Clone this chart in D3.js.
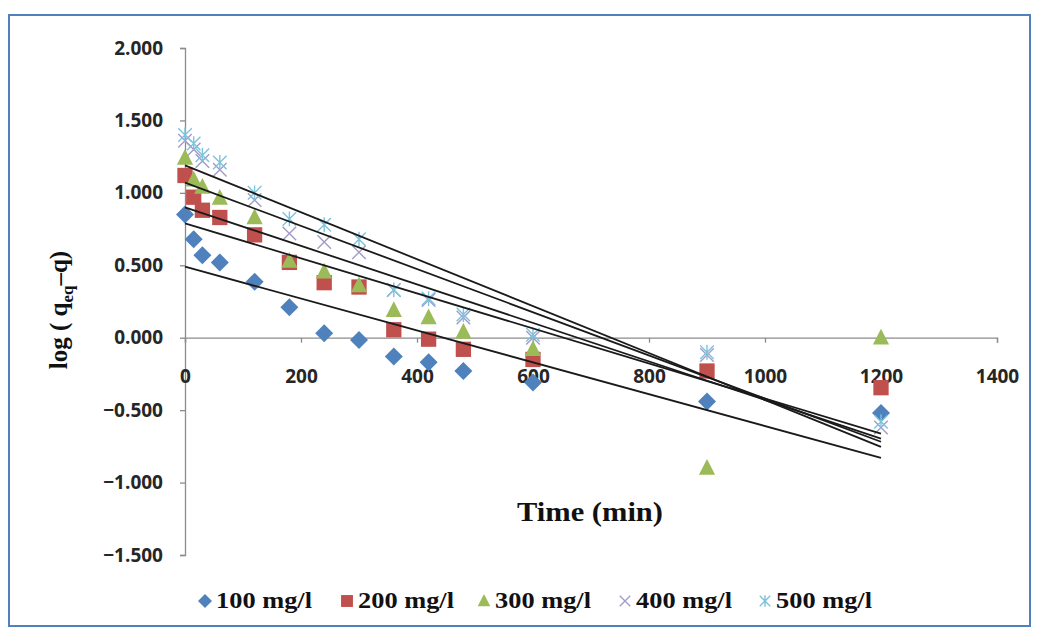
<!DOCTYPE html>
<html>
<head>
<meta charset="utf-8">
<script src="https://cdn.jsdelivr.net/npm/d3@7/dist/d3.min.js"></script>
<style>
  html, body { margin: 0; padding: 0; background: #fff; }
  svg { display: block; }
</style>
</head>
<body>
<svg id="chart" width="1040" height="629"></svg>
<script>
// Sampling times (min)
const times = [0, 15, 30, 60, 120, 180, 240, 300, 360, 420, 480, 600, 900, 1200];

// log(qeq - q) for each initial concentration
const c100 = [0.85, 0.68, 0.57, 0.52, 0.386, 0.21, 0.03, -0.015, -0.13, -0.17, -0.23, -0.31, -0.44, -0.52];
const c200 = [1.12, 0.97, 0.88, 0.83, 0.71, 0.52, 0.38, 0.35, 0.055, -0.01, -0.08, -0.15, -0.23, -0.345];
const c300 = [1.24, 1.09, 1.04, 0.965, 0.83, 0.53, 0.455, 0.36, 0.19, 0.14, 0.04, -0.08, -0.90, 0.0];
const c400 = [1.36, 1.30, 1.22, 1.16, 0.95, 0.72, 0.66, 0.59, 0.33, 0.26, 0.14, 0.0, -0.12, -0.62];
const c500 = [1.40, 1.34, 1.26, 1.21, 1.00, 0.82, 0.78, 0.68, 0.33, 0.27, 0.16, 0.02, -0.10, -0.58];

// Linear fits (intercept, slope per min)
const fitIntercept = [0.49, 0.79, 0.90, 1.07, 1.19];
const fitSlope = [-0.00110, -0.00121, -0.00133, -0.00149, -0.00162];

const seriesNames = ["100 mg/l", "200 mg/l", "300 mg/l", "400 mg/l", "500 mg/l"];
const seriesValues = [c100, c200, c300, c400, c500];
const seriesColors = ["#4F81BD", "#C0504D", "#9BBB59", "#a39bc6", "#7cc3dc"];
const seriesShapes = ["diamond", "square", "triangle", "x", "star"];

const xTicks = [0, 200, 400, 600, 800, 1000, 1200, 1400];
const yTicks = [-1.5, -1.0, -0.5, 0, 0.5, 1.0, 1.5, 2.0];

const svg = d3.select("#chart");

// Outer frame
svg.append("rect")
  .attr("x", 9).attr("y", 15).attr("width", 1021).attr("height", 611)
  .attr("fill", "#fff").attr("stroke", "#4f81bd").attr("stroke-width", 2);

const x = d3.scaleLinear().domain([0, 1400]).range([185, 997]);
const y = d3.scaleLinear().domain([-1.5, 2.0]).range([555, 48]);

const axisColor = "#8c8c8c";
const tickFont = "'Open Sans', 'DejaVu Sans', sans-serif";

// Y axis
const yAxis = svg.append("g")
  .attr("transform", `translate(${x(0)},0)`)
  .call(d3.axisLeft(y).tickValues(yTicks).tickSize(5).tickPadding(17)
    .tickFormat(d3.format(".3f")));
yAxis.select(".domain").attr("stroke", axisColor).attr("stroke-width", 1.3);
yAxis.selectAll(".tick line").attr("stroke", axisColor).attr("stroke-width", 1.3);
yAxis.selectAll(".tick text")
  .attr("font-family", tickFont).attr("font-weight", 700).attr("font-size", 19)
  .attr("fill", "#262626");

// X axis crossing at zero
const xAxis = svg.append("g")
  .attr("transform", `translate(0,${y(0)})`)
  .call(d3.axisBottom(x).tickValues(xTicks).tickSize(5).tickPadding(27).tickSizeOuter(5)
    .tickFormat(d3.format("d")));
xAxis.select(".domain").attr("stroke", axisColor).attr("stroke-width", 1.3);
xAxis.selectAll(".tick line").attr("stroke", axisColor).attr("stroke-width", 1.3);
xAxis.selectAll(".tick text")
  .attr("font-family", tickFont).attr("font-weight", 700).attr("font-size", 19)
  .attr("fill", "#262626");

// Marker drawing
function drawMarker(g, shape, color, cx, cy, s) {
  if (shape === "diamond") {
    g.append("path")
      .attr("d", `M${cx},${cy - s}L${cx + s},${cy}L${cx},${cy + s}L${cx - s},${cy}Z`)
      .attr("fill", color);
  } else if (shape === "square") {
    g.append("rect")
      .attr("x", cx - s * 0.85).attr("y", cy - s * 0.85)
      .attr("width", s * 1.7).attr("height", s * 1.7)
      .attr("fill", color);
  } else if (shape === "triangle") {
    g.append("path")
      .attr("d", `M${cx},${cy - s}L${cx + s * 0.9},${cy + s * 0.75}L${cx - s * 0.9},${cy + s * 0.75}Z`)
      .attr("fill", color);
  } else if (shape === "x") {
    const r = s * 0.75;
    g.append("path")
      .attr("d", `M${cx - r},${cy - r}L${cx + r},${cy + r}M${cx - r},${cy + r}L${cx + r},${cy - r}`)
      .attr("stroke", color).attr("stroke-width", 1.4).attr("fill", "none");
  } else if (shape === "star") {
    const r = s * 0.75;
    g.append("path")
      .attr("d", `M${cx - r},${cy - r}L${cx + r},${cy + r}M${cx - r},${cy + r}L${cx + r},${cy - r}M${cx},${cy - r * 1.1}L${cx},${cy + r * 1.1}`)
      .attr("stroke", color).attr("stroke-width", 1.4).attr("fill", "none");
  }
}

// Data points
const pointsG = svg.append("g");
seriesValues.forEach((vals, i) => {
  const g = pointsG.append("g");
  vals.forEach((v, j) => {
    drawMarker(g, seriesShapes[i], seriesColors[i], x(times[j]), y(v), 9);
  });
});

// Fitted lines over the points
const lineG = svg.append("g");
fitIntercept.forEach((b, i) => {
  const t0 = times[0], t1 = times[times.length - 1];
  lineG.append("line")
    .attr("x1", x(t0)).attr("y1", y(b + fitSlope[i] * t0))
    .attr("x2", x(t1)).attr("y2", y(b + fitSlope[i] * t1))
    .attr("stroke", "#1a1a1a").attr("stroke-width", 1.8);
});

// Axis titles
const serif = "'Liberation Serif', 'Times New Roman', serif";
svg.append("text")
  .attr("x", 517).attr("y", 521)
  .attr("textLength", 146).attr("lengthAdjust", "spacingAndGlyphs")
  .attr("font-family", serif).attr("font-weight", 700).attr("font-size", 28)
  .attr("fill", "#111")
  .text("Time (min)");

const yt = svg.append("text")
  .attr("transform", "translate(67,310) rotate(-90)")
  .attr("text-anchor", "middle")
  .attr("font-family", serif).attr("font-weight", 700).attr("font-size", 25)
  .attr("fill", "#111");
yt.append("tspan").text("log ( q");
yt.append("tspan").attr("font-size", 17).attr("dy", 6).text("eq");
yt.append("tspan").attr("dy", -6).text("–q)");

// Legend
const legendX = [205, 347, 484, 625, 765];
const legendG = svg.append("g");
seriesNames.forEach((name, i) => {
  drawMarker(legendG, seriesShapes[i], seriesColors[i], legendX[i], 601, 7);
  legendG.append("text")
    .attr("x", legendX[i] + 11).attr("y", 608)
    .attr("textLength", 96).attr("lengthAdjust", "spacingAndGlyphs")
    .attr("font-family", serif).attr("font-weight", 700).attr("font-size", 23)
    .attr("fill", "#111")
    .text(name);
});
</script>
</body>
</html>
